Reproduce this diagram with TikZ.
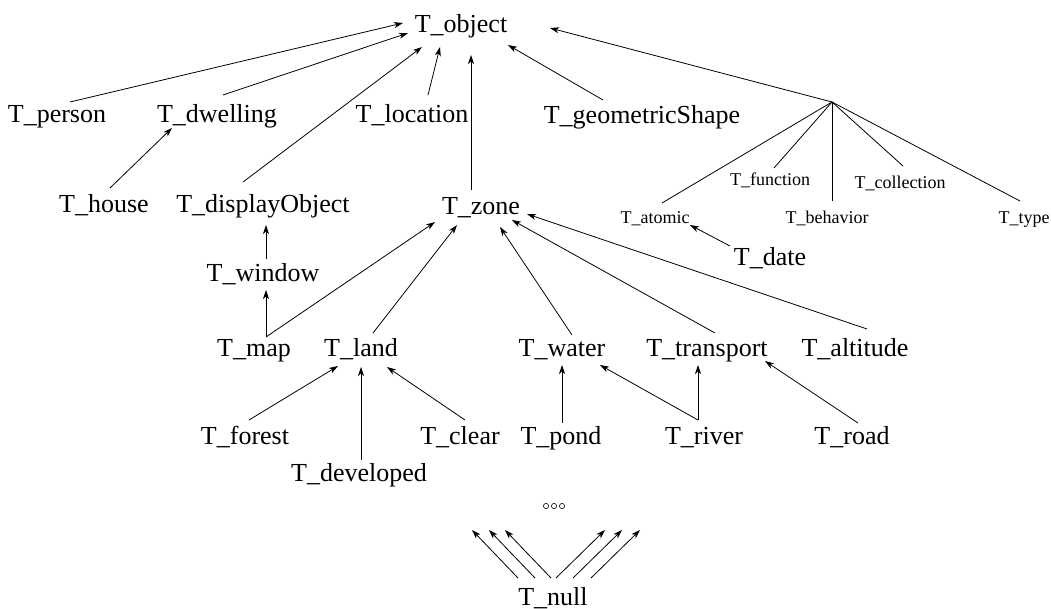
\documentclass[tikz,border=0pt]{standalone}
\usepackage{fontspec}
\setmainfont{Liberation Serif}
\usetikzlibrary{arrows.meta}

\begin{document}
\begin{tikzpicture}[x=1pt,y=-1pt,
  big/.style={anchor=base,inner sep=0pt,font=\fontsize{26}{30}\selectfont},
  small/.style={anchor=base,inner sep=0pt,font=\fontsize{18}{22}\selectfont},
  arr/.style={line width=0.8pt,-{Stealth[length=9pt,width=6pt,inset=2.5pt]}},
  ln/.style={line width=0.8pt}]
\useasboundingbox (0,0) rectangle (1051,608);

% type nodes (positioned by baseline)
\node[big] (object)    at (461,32)  {T\_object};
\node[big] (person)    at (57,122)  {T\_person};
\node[big] (dwelling)  at (217,122) {T\_dwelling};
\node[big] (location)  at (412,122) {T\_location};
\node[big] (geo)       at (642,123) {T\_geometricShape};
\node[big] (house)     at (104,212) {T\_house};
\node[big] (display)   at (263,212) {T\_displayObject};
\node[big] (zone)      at (481,214) {T\_zone};
\node[big] (window)    at (263,281) {T\_window};
\node[big] (map)       at (254,356) {T\_map};
\node[big] (land)      at (361,356) {T\_land};
\node[big] (water)     at (562,356) {T\_water};
\node[big] (transport) at (707,356) {T\_transport};
\node[big] (altitude)  at (855,356) {T\_altitude};
\node[big] (forest)    at (245,444) {T\_forest};
\node[big] (developed) at (359,481) {T\_developed};
\node[big] (clear)     at (460,444) {T\_clear};
\node[big] (pond)      at (561,444) {T\_pond};
\node[big] (river)     at (704,444) {T\_river};
\node[big] (road)      at (852,444) {T\_road};
\node[big] (date)      at (770,265) {T\_date};
\node[big] (null)      at (553,605) {T\_null};

\node[small] (atomic)     at (655,223)  {T\_atomic};
\node[small] (function)   at (770,185)  {T\_function};
\node[small] (behavior)   at (827,223)  {T\_behavior};
\node[small] (collection) at (900,188)  {T\_collection};
\node[small] (type)       at (1024,223) {T\_type};

\coordinate (branch) at (832,102);

% subtype arrows
\draw[arr] ([shift={(13,-20)}]person.base)   -- ([shift={(-58,-9)}]object.base);
\draw[arr] ([shift={(6,-27)}]dwelling.base)  -- ([shift={(-53,1)}]object.base);
\draw[arr] ([shift={(-20,-30)}]display.base) -- ([shift={(-39,15)}]object.base);
\draw[arr] ([shift={(16,-27)}]location.base) -- ([shift={(-21,15)}]object.base);
\draw[arr] ([shift={(-10,-24)}]zone.base)    -- ([shift={(10,23)}]object.base);
\draw[arr] ([shift={(-39,-23)}]geo.base)     -- ([shift={(47,13)}]object.base);
\draw[arr] (branch) -- ([shift={(89,-4)}]object.base);

\draw[arr] ([shift={(6,-24)}]house.base)  -- ([shift={(-45,6)}]dwelling.base);
\draw[arr] ([shift={(3,-22)}]window.base) -- ([shift={(3,13)}]display.base);
\draw[arr] ([shift={(12,-19)}]map.base)   -- ([shift={(3,9)}]window.base);
\draw[arr] ([shift={(12,-19)}]map.base)   -- ([shift={(-46,8)}]zone.base);
\draw[arr] ([shift={(12,-23)}]land.base)      -- ([shift={(-24,11)}]zone.base);
\draw[arr] ([shift={(10,-21)}]water.base)     -- ([shift={(19,13)}]zone.base);
\draw[arr] ([shift={(8,-23)}]transport.base)  -- ([shift={(31,6)}]zone.base);
\draw[arr] ([shift={(12,-27)}]altitude.base)  -- ([shift={(46,0)}]zone.base);

\draw[arr] ([shift={(4,-24)}]forest.base)    -- ([shift={(-23,10)}]land.base);
\draw[arr] ([shift={(2,-21)}]developed.base) -- ([shift={(0,11)}]land.base);
\draw[arr] ([shift={(5,-24)}]clear.base)     -- ([shift={(26,11)}]land.base);
\draw[arr] ([shift={(1,-21)}]pond.base)      -- ([shift={(0,9)}]water.base);
\draw[arr] ([shift={(-6,-24)}]river.base)    -- ([shift={(38,9)}]water.base);
\draw[arr] ([shift={(-6,-24)}]river.base)    -- ([shift={(-9,9)}]transport.base);
\draw[arr] ([shift={(6,-21)}]road.base)      -- ([shift={(58,5)}]transport.base);
\draw[arr] ([shift={(-40,-19)}]date.base)    -- ([shift={(35,2)}]atomic.base);

% the kinds fanning out of the branch point
\draw[ln] (branch) -- ([shift={(7,-20)}]atomic.base);
\draw[ln] (branch) -- ([shift={(4,-17)}]function.base);
\draw[ln] (branch) -- ([shift={(5,-22)}]behavior.base);
\draw[ln] (branch) -- ([shift={(3,-22)}]collection.base);
\draw[ln] (branch) -- ([shift={(-4,-22)}]type.base);

% T_null is a subtype of everything
\foreach \dx in {-35,-18,-2}
  \draw[arr] ([shift={(\dx,-27)}]null.base) -- ++(-46,-48);
\foreach \dx in {3,20,38}
  \draw[arr] ([shift={(\dx,-27)}]null.base) -- ++(49,-48);

% ellipsis
\foreach \cx in {546,554,562}
  \draw[line width=0.6pt] (\cx,506) circle (2.6);
\end{tikzpicture}
\end{document}
